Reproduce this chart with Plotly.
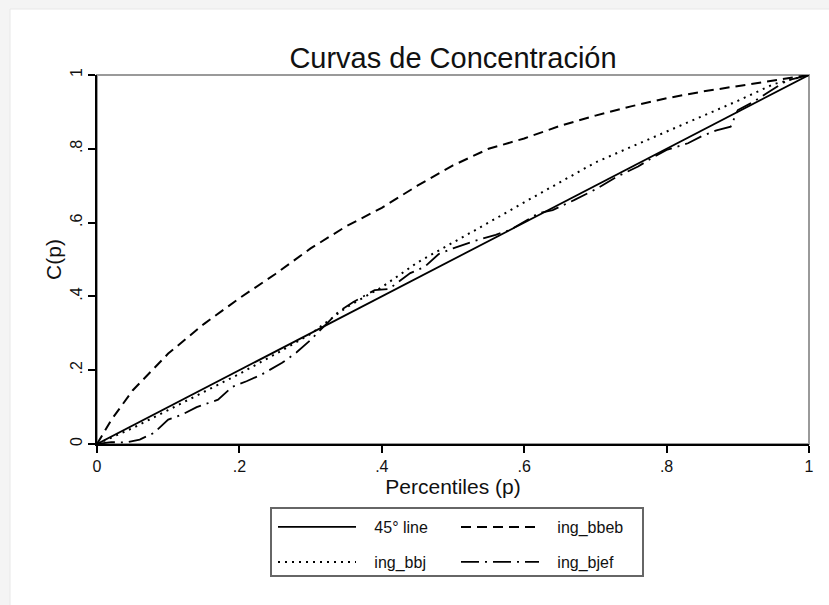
import plotly.graph_objects as go

# ---------------- data ----------------
diag_p = [0, 1]
diag_c = [0, 1]

bbeb_p = [0, 0.02, 0.05, 0.10, 0.15, 0.20, 0.25, 0.30, 0.35, 0.40, 0.45, 0.50,
          0.55, 0.60, 0.65, 0.70, 0.75, 0.80, 0.85, 0.90, 0.95, 1.0]
bbeb_c = [0, 0.065, 0.145, 0.245, 0.325, 0.395, 0.46, 0.53, 0.59, 0.64, 0.70, 0.755,
          0.80, 0.828, 0.862, 0.89, 0.915, 0.937, 0.955, 0.97, 0.985, 1.0]

bbj_p = [0, 0.05, 0.10, 0.15, 0.20, 0.25, 0.30, 0.35, 0.40, 0.45, 0.50,
         0.55, 0.60, 0.65, 0.70, 0.75, 0.80, 0.85, 0.90, 0.95, 1.0]
bbj_c = [0, 0.043, 0.092, 0.141, 0.19, 0.243, 0.298, 0.37, 0.425, 0.492, 0.545,
         0.60, 0.655, 0.71, 0.763, 0.805, 0.847, 0.888, 0.93, 0.975, 1.0]

bjef_p = [0, 0.02, 0.04, 0.06, 0.08, 0.10, 0.12, 0.14, 0.17, 0.19, 0.21, 0.23,
          0.26, 0.28, 0.30, 0.32, 0.34, 0.36, 0.39, 0.41, 0.44, 0.46, 0.48, 0.50,
          0.53, 0.56, 0.58, 0.62, 0.64, 0.67, 0.70, 0.73, 0.76, 0.78, 0.80, 0.83,
          0.85, 0.87, 0.89, 0.90, 0.92, 0.94, 0.97, 1.0]
bjef_c = [0, 0.005, 0.004, 0.012, 0.03, 0.066, 0.08, 0.10, 0.12, 0.155, 0.17, 0.187,
          0.22, 0.248, 0.282, 0.32, 0.36, 0.385, 0.417, 0.42, 0.463, 0.48, 0.515, 0.53,
          0.55, 0.567, 0.58, 0.625, 0.634, 0.661, 0.69, 0.724, 0.752, 0.776, 0.797, 0.815,
          0.835, 0.85, 0.86, 0.905, 0.925, 0.95, 0.986, 1.0]

tick_vals = [0, 0.2, 0.4, 0.6, 0.8, 1]
tick_text = ["0", ".2", ".4", ".6", ".8", "1"]

FONT = "Liberation Sans, Arial, sans-serif"
GAP = "\u00a0\u00a0\u00a0"  # visual gap between legend sample and label

# ---------------- figure ----------------
fig = go.Figure()
fig.add_trace(go.Scatter(x=diag_p, y=diag_c, mode="lines", name=GAP + "45° line",
                         line=dict(color="black", width=1.8), legend="legend"))
fig.add_trace(go.Scatter(x=bbeb_p, y=bbeb_c, mode="lines", name=GAP + "ing_bbeb",
                         line=dict(color="black", width=2, dash="10px,6px"),
                         legend="legend"))
fig.add_trace(go.Scatter(x=bbj_p, y=bbj_c, mode="lines", name=GAP + "ing_bbj",
                         line=dict(color="black", width=2, dash="2px,5px"),
                         legend="legend2"))
fig.add_trace(go.Scatter(x=bjef_p, y=bjef_c, mode="lines", name=GAP + "ing_bjef",
                         line=dict(color="black", width=1.8, dash="18px,6px,2px,6px"),
                         legend="legend2"))

W, H = 829, 605
L, R, T, B = 97, 809, 75, 444
pw, ph = R - L, B - T


def px(xp):
    return (xp - L) / pw


def py(yp):
    return (B - yp) / ph


legend_common = dict(orientation="h", xref="paper", yref="paper",
                     xanchor="left", yanchor="middle",
                     bgcolor="rgba(0,0,0,0)", borderwidth=0,
                     itemwidth=78, entrywidth=90,
                     font=dict(family=FONT, size=16, color="#111"),
                     itemclick=False, itemdoubleclick=False)

fig.update_layout(
    width=W, height=H,
    margin=dict(l=L, r=W - R, t=T, b=H - B, pad=0),
    paper_bgcolor="#f4f4f4",
    plot_bgcolor="white",
    font=dict(family=FONT, color="#111"),
    title=dict(text="Curvas de Concentración", x=(L + R) / 2 / W, xanchor="center",
               y=1 - 58 / H, yanchor="middle",
               font=dict(family=FONT, size=29, color="#111")),
    xaxis=dict(range=[0, 1], tickvals=tick_vals, ticktext=tick_text,
               showgrid=False, zeroline=False, showline=True, linecolor="black",
               linewidth=2, ticks="outside", ticklen=7, tickwidth=1.5,
               tickcolor="black", tickfont=dict(family=FONT, size=16, color="#111"),
               title=dict(text="Percentiles (p)", standoff=2,
                          font=dict(family=FONT, size=21, color="#111"))),
    yaxis=dict(range=[0, 1], tickvals=tick_vals, ticktext=tick_text,
               showgrid=False, zeroline=False, showline=True, linecolor="black",
               linewidth=2, ticks="outside", ticklen=7, tickwidth=1.5,
               tickcolor="black", tickangle=-90,
               tickfont=dict(family=FONT, size=16, color="#111"),
               title=dict(text="C(p)", standoff=0,
                          font=dict(family=FONT, size=21, color="#111"))),
    legend=dict(x=px(273), y=py(527), **legend_common),
    legend2=dict(x=px(273), y=py(562), **legend_common),
    shapes=[
        # white graph region inside light page frame
        dict(type="rect", xref="paper", yref="paper", layer="below",
             x0=px(10), x1=px(835), y0=py(612), y1=py(9),
             fillcolor="white", line=dict(color="#e8e8e8", width=1)),
        # gray plot-region outline
        dict(type="rect", xref="paper", yref="paper", layer="below",
             x0=0, x1=1, y0=0, y1=1,
             fillcolor="rgba(0,0,0,0)", line=dict(color="#9a9a9a", width=2)),
        # legend frame
        dict(type="rect", xref="paper", yref="paper", layer="above",
             x0=px(271), x1=px(643), y0=py(576), y1=py(508),
             fillcolor="rgba(0,0,0,0)", line=dict(color="#666666", width=2)),
    ],
)

fig.write_html("out.html", config={"displayModeBar": False},
               post_script="document.body.style.margin='0';"
                           "document.body.style.background='#f4f4f4';")
